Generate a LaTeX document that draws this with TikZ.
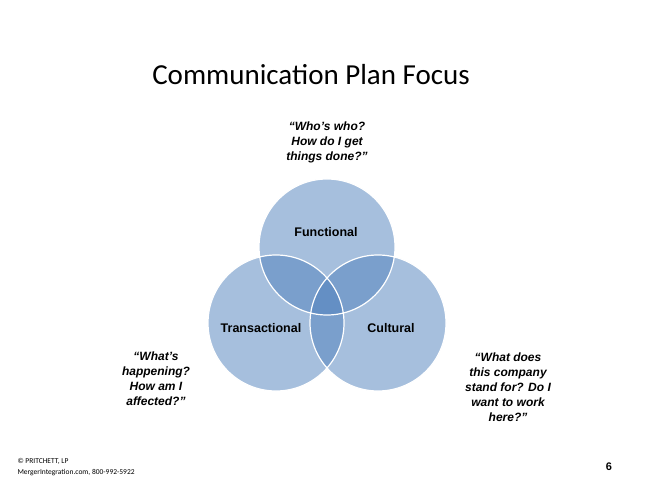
\documentclass[tikz,border=0pt]{standalone}
\usepackage{fontspec}
\setmainfont{Liberation Sans}
\newfontfamily\carfont{Carlito}
\definecolor{vb}{HTML}{4F81BD}
\begin{document}
\begin{tikzpicture}[x=1pt,y=-1pt,
  lab/.style={font=\bfseries\fontsize{12.5}{14}\selectfont},
  quote/.style={font=\bfseries\itshape\fontsize{12}{15}\selectfont,align=center}]
\useasboundingbox (0,0) rectangle (650,489);
\fill[white] (0,0) rectangle (650,489);
\fill[vb,fill opacity=0.5] (327,247) circle (68);
\fill[vb,fill opacity=0.5] (276,323) circle (68);
\fill[vb,fill opacity=0.5] (378,323) circle (68);
\draw[white,line width=1.2pt] (327,247) circle (68) (276,323) circle (68) (378,323) circle (68);
\node[lab] (f) at (326,232) {Functional};
\node[lab] (t) at (261,328) {Transactional};
\node[lab] (c) at (391,328) {Cultural};
\node[font=\carfont\fontsize{29}{32}\selectfont] (title) at (311,75) {Communication Plan Focus};
\node[quote] (q1) at (327,142) {“Who’s who?\\How do I get\\things done?”};
\node[quote] (q2) at (156,379) {“What’s\\happening?\\How am I\\affected?”};
\node[quote] (q3) at (508,387) {“What does\\this company\\stand for? Do I\\want to work\\here?”};
\node[font=\carfont\fontsize{7.5}{11}\selectfont,align=left,anchor=west] (ft) at (14,467) {© PRITCHETT, LP\\MergerIntegration.com, 800-992-5922};
\node[font=\bfseries\fontsize{11}{12}\selectfont] (pg) at (609,467) {6};
\end{tikzpicture}
\end{document}
